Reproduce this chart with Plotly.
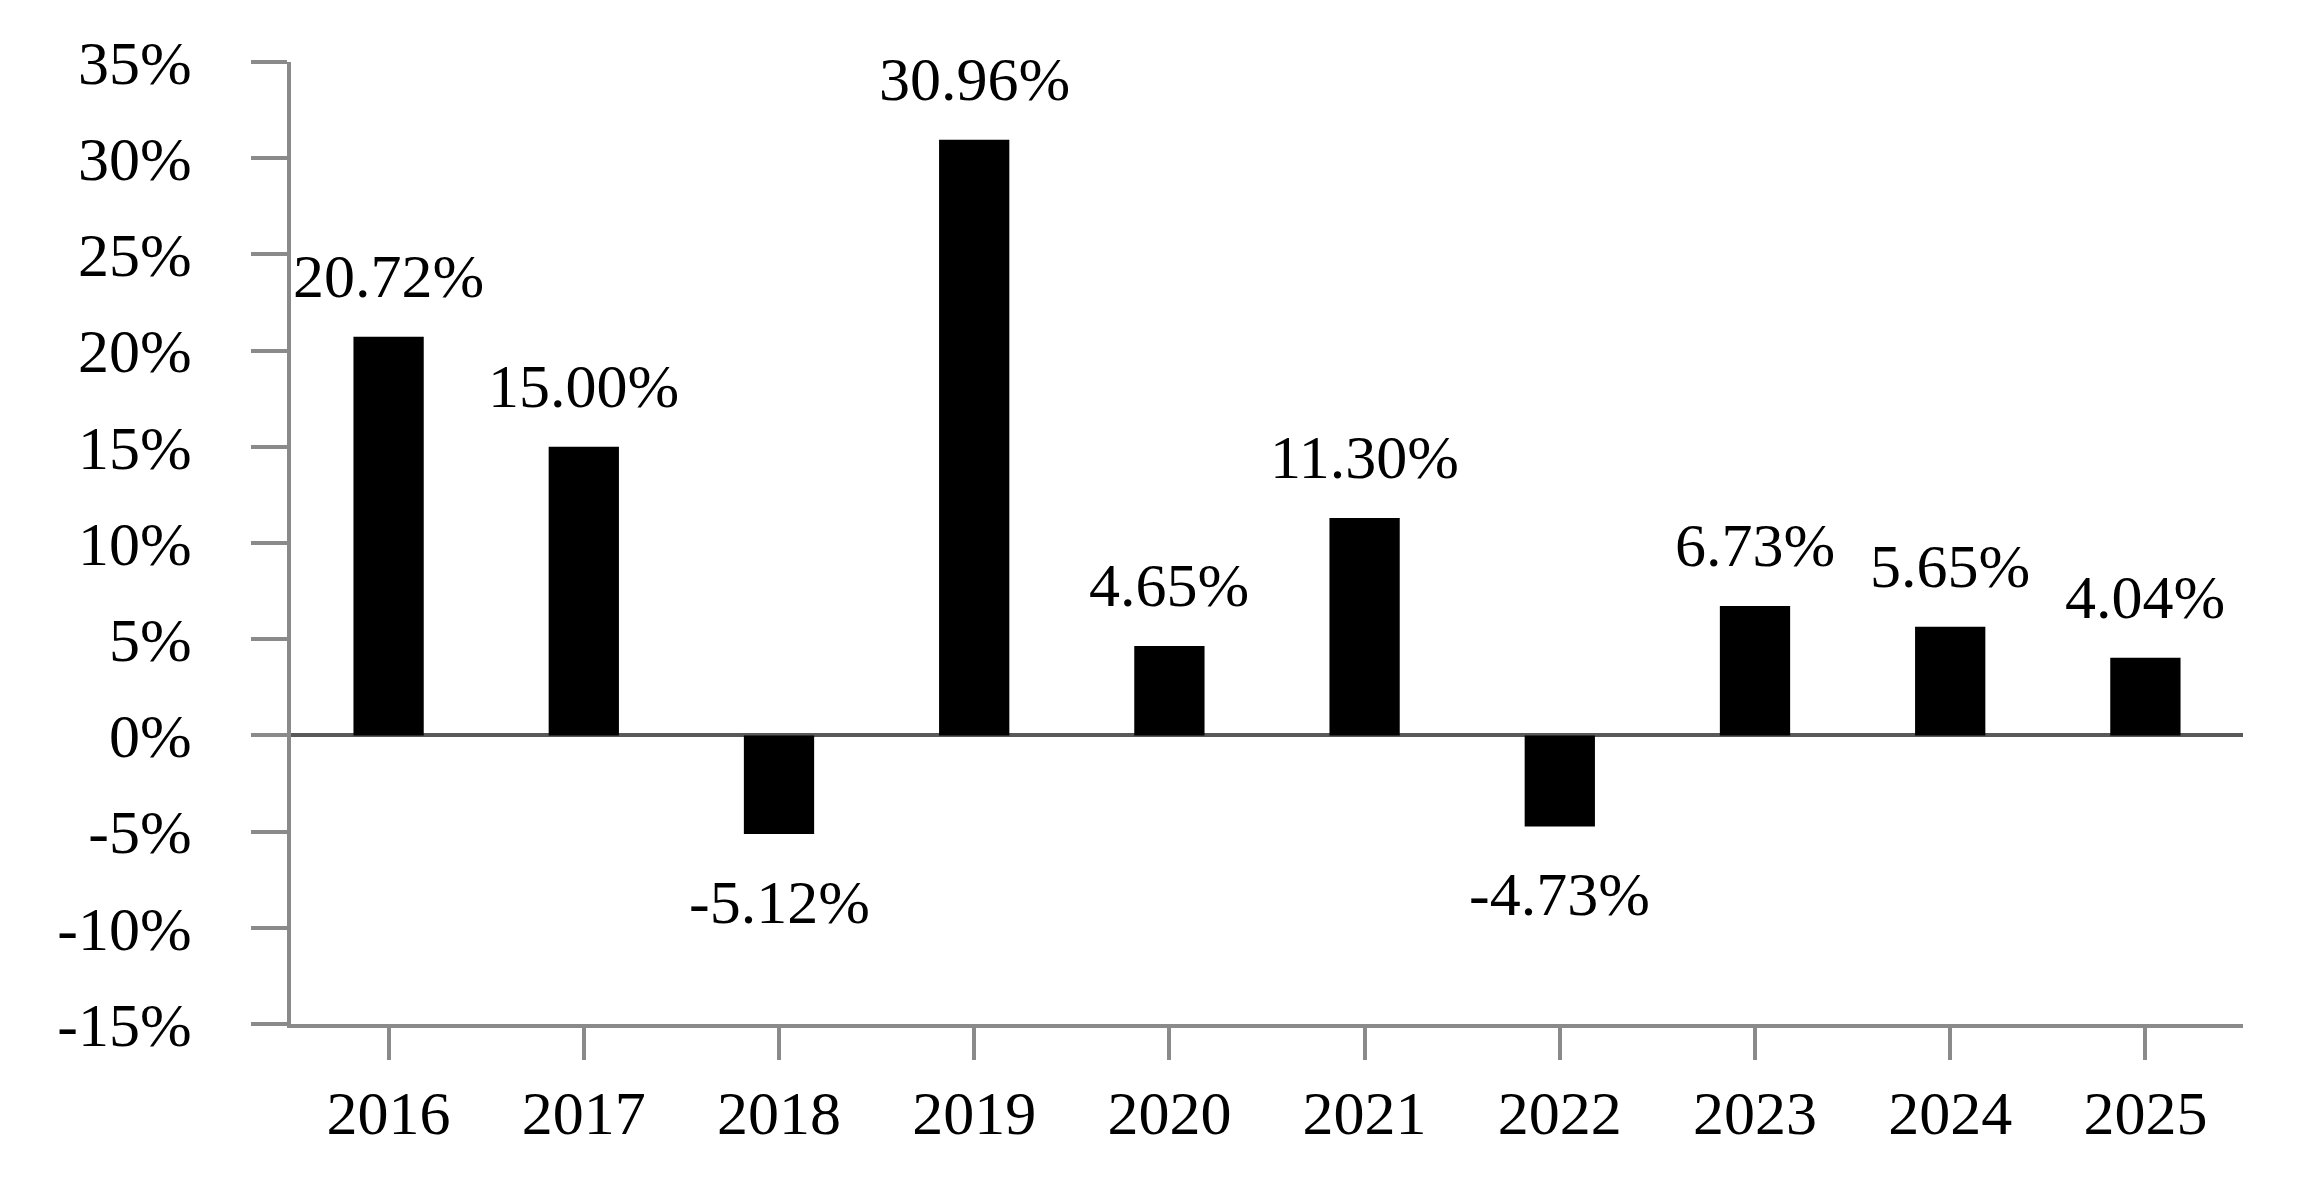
import plotly.graph_objects as go

years = ["2016", "2017", "2018", "2019", "2020", "2021", "2022", "2023", "2024", "2025"]
returns = [20.72, 15.00, -5.12, 30.96, 4.65, 11.30, -4.73, 6.73, 5.65, 4.04]
y_tick_values = [-15, -10, -5, 0, 5, 10, 15, 20, 25, 30, 35]
y_tick_labels = ["-15%", "-10%", "-5%", "0%", "5%", "10%", "15%", "20%", "25%", "30%", "35%"]

FONT = "Liberation Serif"
FONT_SIZE = 62
AXIS_GRAY = "#8a8a8a"
ZERO_GRAY = "#595959"

fig = go.Figure(
    go.Bar(
        x=years,
        y=returns,
        marker=dict(color="black", line=dict(width=0)),
        hoverinfo="skip",
    )
)

# value labels (category index used as x so the category axis maps them)
for i, v in enumerate(returns):
    fig.add_annotation(
        x=i,
        y=v,
        xref="x",
        yref="y",
        text=f"{v:.2f}%",
        showarrow=False,
        yanchor="bottom" if v >= 0 else "top",
        yshift=25 if v >= 0 else -32,
        font=dict(family=FONT, size=FONT_SIZE, color="black"),
    )

fig.update_layout(
    width=2304,
    height=1200,
    margin=dict(l=283, r=69, t=54, b=184),
    plot_bgcolor="white",
    paper_bgcolor="white",
    bargap=0.64,
    showlegend=False,
)

fig.update_xaxes(
    type="category",
    range=[-0.5, len(years) - 0.5],
    showline=True,
    linecolor=AXIS_GRAY,
    linewidth=4,
    ticks="outside",
    ticklen=32,
    tickwidth=4,
    tickcolor=AXIS_GRAY,
    tickfont=dict(family=FONT, size=FONT_SIZE, color="black"),
    showgrid=False,
    ticklabelstandoff=0,
)

fig.update_yaxes(
    range=[-15, 35],
    tickmode="array",
    tickvals=y_tick_values,
    ticktext=y_tick_labels,
    showline=True,
    linecolor=AXIS_GRAY,
    linewidth=4,
    ticks="outside",
    ticklen=36,
    tickwidth=4,
    tickcolor=AXIS_GRAY,
    tickfont=dict(family=FONT, size=FONT_SIZE, color="black"),
    showgrid=False,
    zeroline=True,
    zerolinecolor=ZERO_GRAY,
    zerolinewidth=4,
    ticklabelstandoff=47,
)

fig.write_html("out.html")
